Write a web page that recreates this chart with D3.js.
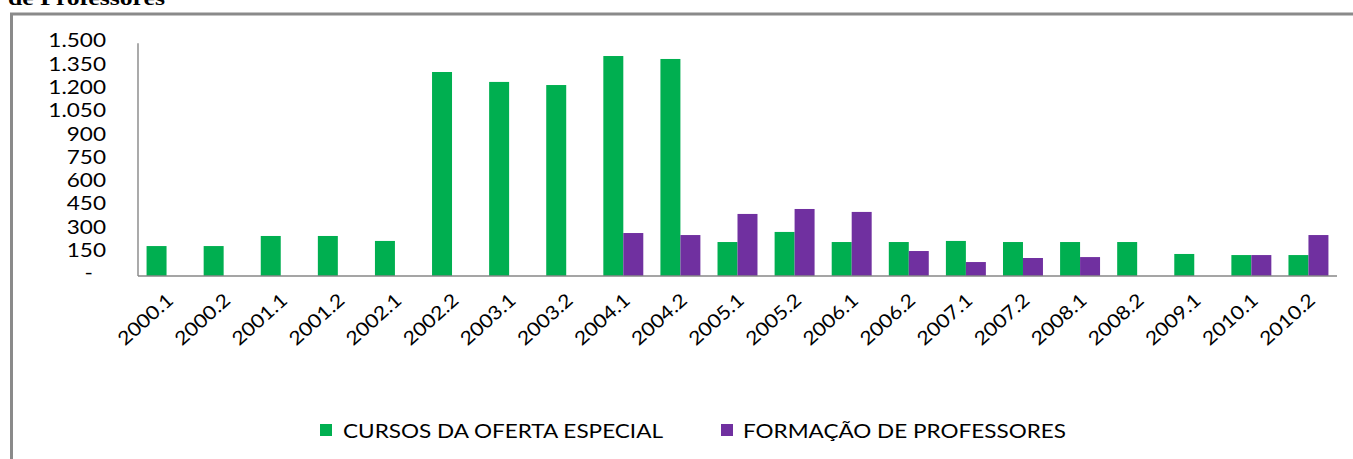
<!DOCTYPE html>
<html>
<head>
<meta charset="utf-8">
<script src="https://cdn.jsdelivr.net/npm/d3@7"></script>
<style>
  html, body { margin: 0; padding: 0; background: #fff; }
  svg { display: block; }
  text { font-family: Lato, "Open Sans", sans-serif; fill: #000; }
</style>
</head>
<body>
<svg id="chart" width="1353" height="459"></svg>
<script>
const categories = ["2000.1","2000.2","2001.1","2001.2","2002.1","2002.2","2003.1","2003.2","2004.1","2004.2","2005.1","2005.2","2006.1","2006.2","2007.1","2007.2","2008.1","2008.2","2009.1","2010.1","2010.2"];
const cursos   = [193,193,258,258,226,1315,1251,1231,1418,1399,219,284,219,219,226,219,219,219,142,135,135];
const formacao = [null,null,null,null,null,null,null,null,277,264,400,432,413,161,90,116,122,null,null,135,264];
const seriesNames = ["CURSOS DA OFERTA ESPECIAL", "FORMAÇÃO DE PROFESSORES"];
const seriesColors = ["#00AF50", "#7030A0"];
const yTicks = [0,150,300,450,600,750,900,1050,1200,1350,1500];
const title = "de Professores";

const svg = d3.select("#chart");
const W = 1353, H = 459;
svg.append("rect").attr("width", W).attr("height", H).attr("fill", "#fff");

// title (cut off at top, as in the source)
svg.append("text").attr("x", 8).attr("y", 5)
  .attr("textLength", 157).attr("lengthAdjust", "spacingAndGlyphs")
  .style("font-family", "'Liberation Serif', 'Times New Roman', serif")
  .style("font-weight", "bold").style("font-size", "20px")
  .text(title);

// frame
svg.append("path").attr("d", `M11.5,${H+5} L11.5,14 L${W+5},14`)
  .attr("fill", "none").attr("stroke", "#8a8a8a").attr("stroke-width", 3);

const x0 = 138, x1 = 1337, yTop = 43.3, yBase = 276;
const x = d3.scaleBand().domain(categories).range([x0, x1]).paddingInner(0.3).paddingOuter(0.15);
const xs = d3.scaleBand().domain([0, 1]).range([0, x.bandwidth()]);
const y = d3.scaleLinear().domain([0, 1500]).range([yBase, yTop]);

const sx = 1.22;
const fmt = v => v === 0 ? "-" : d3.format(",")(v).replace(/,/g, ".");

// y labels
svg.append("g").selectAll("text").data(yTicks).join("text")
  .attr("transform", d => d === 0
      ? `translate(93,${y(d) - 4}) scale(${sx},1)`
      : `translate(106,${y(d) - 2.5}) scale(${sx},1)`)
  .attr("text-anchor", "end").attr("dy", "0.36em")
  .style("font-size", "18.5px")
  .text(fmt);

// bars
const series = [cursos, formacao];
series.forEach((vals, si) => {
  svg.append("g").selectAll("rect")
    .data(categories.map((c, i) => ({c, v: vals[i]})).filter(d => d.v != null))
    .join("rect")
    .attr("x", d => x(d.c) + xs(si))
    .attr("width", xs.bandwidth())
    .attr("y", d => y(d.v))
    .attr("height", d => y(0) - y(d.v))
    .attr("fill", seriesColors[si]);
});

// axes lines
svg.append("line").attr("x1", x0).attr("x2", x0).attr("y1", yTop).attr("y2", yBase)
  .attr("stroke", "#878787").attr("stroke-width", 1.4);
svg.append("line").attr("x1", x0).attr("x2", x1).attr("y1", yBase).attr("y2", yBase)
  .attr("stroke", "#878787").attr("stroke-width", 1.4);

// x labels
svg.append("g").selectAll("text").data(categories).join("text")
  .attr("transform", d => `translate(${x(d) + x.bandwidth()/2 + 8},302) rotate(-42) scale(1.12,1)`)
  .attr("text-anchor", "end")
  .style("font-size", "19px")
  .text(d => d);

// legend
const legendItems = [
  {sq: 320, tx: 343, len: 320},
  {sq: 721, tx: 743, len: 323}
];
legendItems.forEach((L, i) => {
  svg.append("rect").attr("x", L.sq).attr("y", 424).attr("width", 12).attr("height", 12)
    .attr("fill", seriesColors[i]);
  svg.append("text").attr("x", L.tx).attr("y", 437.5)
    .attr("textLength", L.len).attr("lengthAdjust", "spacingAndGlyphs")
    .style("font-size", "19px")
    .text(seriesNames[i]);
});
</script>
</body>
</html>
